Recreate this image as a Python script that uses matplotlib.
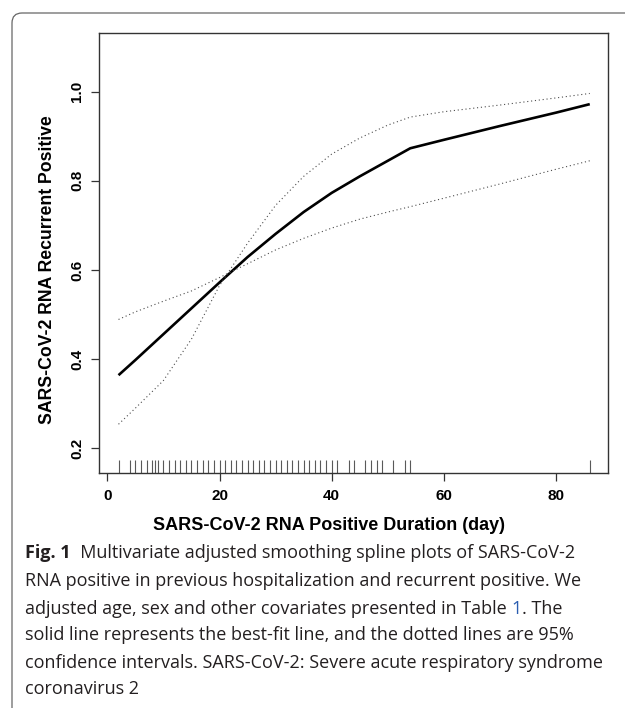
import numpy as np
import matplotlib
matplotlib.use('Agg')
import matplotlib.pyplot as plt
from matplotlib.patches import FancyBboxPatch

plt.rcParams['font.family'] = ['Liberation Sans', 'DejaVu Sans']

# values
days = [2, 5, 10, 15, 20, 25, 30, 35, 40, 45, 50, 54, 60, 70, 80, 86]
fit = [0.364, 0.398, 0.456, 0.514, 0.572, 0.629, 0.681, 0.730, 0.773, 0.810,
       0.845, 0.873, 0.892, 0.923, 0.953, 0.972]
ci_a = [0.489, 0.506, 0.530, 0.553, 0.583, 0.614, 0.645, 0.671, 0.694, 0.714,
        0.730, 0.742, 0.761, 0.793, 0.826, 0.845]
ci_b = [0.254, 0.290, 0.352, 0.445, 0.565, 0.660, 0.745, 0.810, 0.860, 0.896,
        0.925, 0.943, 0.955, 0.970, 0.986, 0.996]
rug_days = [2, 4, 5, 6, 7, 8, 8.5, 9, 10, 11, 12, 13, 14, 15, 16, 17, 18, 19,
            20, 21, 22, 23, 24, 25, 26, 27, 28, 29, 30, 31, 32, 33, 34, 35, 36,
            37, 38, 39, 40, 41, 43, 44, 46, 47, 48, 49, 51, 53, 54, 86]
xticks = [0, 20, 40, 60, 80]
yticks = [0.2, 0.4, 0.6, 0.8, 1.0]

W, H = 625, 708
fig = plt.figure(figsize=(W / 100, H / 100), dpi=100)
ax = fig.add_axes([99 / W, 1 - 473 / H, 509 / W, 440 / H])

ax.plot(days, fit, color='black', lw=1.9, solid_capstyle='butt')
ax.plot(days, ci_a, color='0.3', lw=0.8, linestyle=(0, (1, 2.5)))
ax.plot(days, ci_b, color='0.3', lw=0.8, linestyle=(0, (1, 2.5)))
ax.vlines(rug_days, 0, 0.03, transform=ax.get_xaxis_transform(),
          color='0.35', lw=0.8)

ax.set_xlim(-1.48, 89.25)
ax.set_ylim(0.1446, 1.1316)
ax.set_xticks(xticks)
ax.set_yticks(yticks)
ax.set_xticklabels([str(t) for t in xticks], fontweight='bold', fontsize=11)
ax.set_yticklabels(['%.1f' % t for t in yticks], fontweight='bold',
                   fontsize=11, rotation=90, va='center')
ax.tick_params(direction='out', length=5.5, width=0.9, color='0.2')
ax.tick_params(axis='x', pad=6)
ax.tick_params(axis='y', pad=5)
for s in ax.spines.values():
    s.set_linewidth(1.0)
    s.set_color('0.2')

ax.set_xlabel('SARS-CoV-2 RNA Positive Duration (day)', fontweight='bold',
              fontsize=13)
ax.xaxis.set_label_coords(0.451, (473 - 530) / 440)
ax.xaxis.label.set_va('baseline')
ax.set_ylabel('SARS-CoV-2 RNA Recurrent Positive', fontweight='bold',
              fontsize=12.7)
ax.yaxis.set_label_coords((51.7 - 99) / 509, (473 - 270) / 440)
ax.yaxis.label.set_va('baseline')

# rounded frame around the figure + caption
frame = FancyBboxPatch((0.12, -0.6), 10, 6.95 + 0.6,
                       boxstyle='round,pad=0,rounding_size=0.1',
                       transform=fig.dpi_scale_trans, fill=False,
                       edgecolor='0.4', lw=0.9)
fig.add_artist(frame)

cap_font = ['Open Sans', 'DejaVu Sans']
cap_size = 13
cap_col = '#231f20'
baselines = [558, 586.5, 614, 640.5, 667.5, 694.5]
cap_lines = [
    None,
    'RNA positive in previous hospitalization and recurrent positive. We',
    None,
    'solid line represents the best-fit line, and the dotted lines are 95%',
    'confidence intervals. SARS-CoV-2: Severe acute respiratory syndrome',
    'coronavirus 2',
]
for yb, txt in zip(baselines, cap_lines):
    if txt is not None:
        fig.text(25 / W, 1 - yb / H, txt, family=cap_font, fontsize=cap_size,
                 color=cap_col, va='baseline')

t1 = fig.text(25 / W, 1 - baselines[0] / H, 'Fig. 1', family=cap_font,
              fontsize=cap_size, fontweight='bold', color=cap_col,
              va='baseline')
t3 = fig.text(25 / W, 1 - baselines[2] / H,
              'adjusted age, sex and other covariates presented in Table ',
              family=cap_font, fontsize=cap_size, color=cap_col, va='baseline')

# place follow-on pieces right after their predecessors
fig.canvas.draw()
r = fig.canvas.get_renderer()
bb1 = t1.get_window_extent(r)
fig.text(bb1.x1 / fig.bbox.width, 1 - baselines[0] / H,
         '  Multivariate adjusted smoothing spline plots of SARS-CoV-2',
         family=cap_font, fontsize=cap_size, color=cap_col, va='baseline')
bb3 = t3.get_window_extent(r)
t3b = fig.text(bb3.x1 / fig.bbox.width, 1 - baselines[2] / H, '1',
               family=cap_font, fontsize=cap_size, color='#2a5db0',
               va='baseline')
fig.canvas.draw()
bb3b = t3b.get_window_extent(r)
fig.text(bb3b.x1 / fig.bbox.width, 1 - baselines[2] / H, '. The',
         family=cap_font, fontsize=cap_size, color=cap_col, va='baseline')

fig.savefig('out.png', dpi=100)
